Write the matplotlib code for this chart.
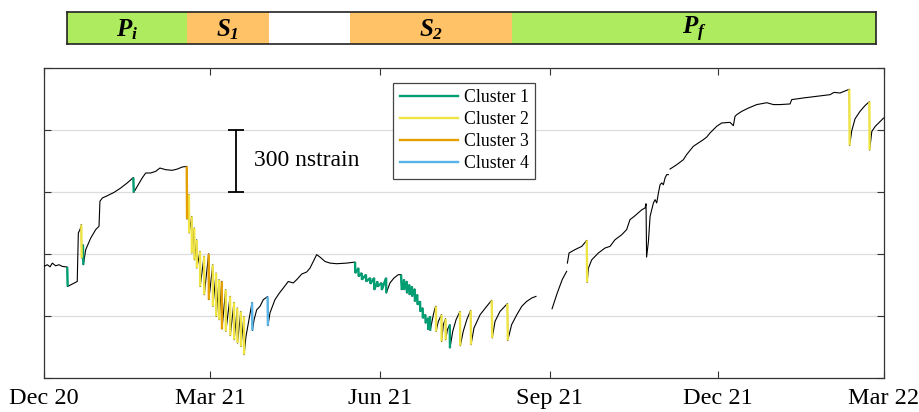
import numpy as np
import pandas as pd
import matplotlib
matplotlib.use('Agg')
import matplotlib.pyplot as plt
import matplotlib.dates as mdates
from matplotlib.collections import LineCollection
from matplotlib.lines import Line2D

plt.rcParams['font.family'] = ['Liberation Serif', 'DejaVu Serif']
plt.rcParams['mathtext.fontset'] = 'custom'
plt.rcParams['mathtext.it'] = 'Liberation Serif:italic:bold'
plt.rcParams['mathtext.rm'] = 'Liberation Serif:italic:bold'
plt.rcParams['mathtext.bf'] = 'Liberation Serif:italic:bold'

# ---------------- data ----------------
start_date = '2020-12-01'          # day 0
# days since start_date, strain (nstrain), cluster of the segment ending at this point (0 = none)
days = [0.0, 1.8, 3.3, 4.5, 6.3, 8.1, 9.9, 12.6, 12.8, 14.5, 18.0, 18.6, 19.5, 20.2, 20.4,
        21.1, 21.3, 22.6, 25.3, 28.0, 29.8, 30.3, 31.6, 34.3, 37.9, 41.5, 45.1, 48.4, 48.6,
        50.5, 53.2, 55.1, 57.8, 60.5, 62.8, 65.9, 69.5, 72.2, 74.9, 77.3, 77.5,
        78.5, 78.6, 80.0, 80.1, 81.4, 81.5, 82.7, 82.8, 84.5, 84.6, 86.7, 86.8, 89.2, 89.3,
        91.4, 91.5, 93.2, 93.3, 94.8, 94.9, 96.3, 96.4, 98.4, 98.5, 100.8, 100.9, 102.9, 103.0,
        104.7, 104.8, 106.6, 106.7, 108.3, 108.4,
        109.4, 110.7, 112.7, 112.9, 113.8, 115.2, 117.0, 118.8, 121.1, 121.3,
        122.4, 125.1, 127.5, 129.6, 132.3, 135.0, 136.9, 139.6, 142.3, 144.1, 145.9, 147.7,
        149.5, 152.2, 154.9, 158.6, 164.0, 168.5,
        168.6, 170.3, 170.4, 172.1, 172.2, 174.4, 174.5, 176.7, 176.8, 178.8, 178.9, 180.6,
        180.7, 182.9, 183.0, 185.3, 185.4,
        187.4, 189.6, 191.9, 193.4,
        193.8, 195.0, 195.1, 196.5, 196.6, 197.9, 198.0, 199.3, 199.4, 200.8, 200.9, 202.2,
        202.3, 203.7, 203.8, 205.1, 205.2, 206.6, 206.7, 208.0, 208.1, 209.1, 209.2,
        210.9, 211.8, 212.3, 212.4, 213.6, 215.3, 215.4, 216.3, 217.5, 217.6, 218.5, 219.8,
        219.9, 221.4, 223.2, 225.3, 225.5, 227.1, 229.0, 231.1, 231.3, 232.9, 236.2, 239.8,
        242.5, 242.8, 244.3, 247.0, 251.0, 251.2, 253.3, 256.1, 258.8, 261.5, 264.2, 266.5,
        270.0,
        275.2, 278.0, 280.7, 283.1,
        283.3,
        283.5, 284.4, 287.6, 291.3, 294.0, 294.2, 294.9, 296.7, 300.3, 303.9, 306.6, 309.3,
        312.9, 315.6, 317.4, 320.1, 323.8, 325.6, 326.1, 326.4, 327.4, 328.3, 330.1, 331.0,
        331.9, 332.8, 333.7, 334.6, 335.5, 336.4, 337.3, 338.2,
        338.6,
        339.1, 342.7, 346.3, 348.1, 351.7, 357.1, 359.0, 360.8, 364.4, 367.1, 371.6, 373.4,
        374.3, 375.2, 377.9, 381.5, 386.1, 391.5, 395.1, 398.7, 404.1, 405.0, 411.3, 418.6,
        425.8, 427.9, 431.2, 436.2, 436.4, 437.5, 439.3, 442.0, 444.7, 447.1, 447.2, 448.4,
        450.2, 452.1, 454.8]
strain = [540, 548, 538, 556, 543, 548, 540, 537, 443, 451, 467, 702, 718, 742, 581,
          645, 548, 621, 677, 718, 734, 855, 871, 882, 898, 919, 944, 970, 898,
          927, 968, 992, 992, 1000, 1016, 1008, 1005, 1011, 1021, 1024, 769,
          887, 702, 782, 605, 726, 572, 669, 532, 613, 443, 589, 403, 601, 379,
          548, 347, 508, 298, 476, 282, 468, 237, 427, 226, 395, 205, 366, 185,
          339, 169, 322, 153, 298, 113,
          201, 266, 366, 230, 282, 330, 347, 379, 394, 253,
          315, 379, 411, 435, 467, 460, 476, 503, 513, 532, 564, 597,
          585, 564, 556, 553, 556, 561,
          508, 532, 492, 508, 476, 500, 467, 484, 456, 484, 427, 467,
          443, 460, 427, 484, 411,
          460, 484, 500, 500,
          427, 476, 427, 468, 411, 451, 403, 443, 395, 431, 371, 403,
          355, 371, 322, 339, 290, 306, 266, 290, 234, 298, 230,
          306, 339, 347, 226, 274, 306, 177, 258, 287, 185, 234, 258,
          145, 226, 282, 322, 156, 226, 282, 327, 161, 242, 306, 347,
          376, 194, 274, 322, 360, 182, 258, 306, 347, 371, 387, 395,
          np.nan,
          335, 411, 476, 516,
          np.nan,
          556, 605, 621, 637, 666, 463, 532, 572, 605, 629, 637, 669,
          693, 718, 766, 785, 814, 823, 843, 585, 661, 782, 847, 863,
          847, 895, 935, 944, 935, 968, 984, 984,
          np.nan,
          1011, 1032, 1056, 1081, 1121, 1153, 1166, 1186, 1218, 1234, 1237, 1221,
          1266, 1274, 1290, 1306, 1323, 1332, 1323, 1323, 1326, 1347, 1355, 1363,
          1371, 1382, 1379, 1397, 1126, 1195, 1254, 1290, 1318, 1337, 1103, 1193,
          1217, 1234, 1258]
cluster = [0, 0, 0, 0, 0, 0, 0, 0, 1, 0, 0, 0, 0, 0, 2,
           0, 1, 0, 0, 0, 0, 0, 0, 0, 0, 0, 0, 0, 1,
           0, 0, 0, 0, 0, 0, 0, 0, 0, 0, 0, 3,
           0, 2, 0, 2, 0, 2, 0, 2, 0, 2, 0, 2, 0, 3,
           0, 2, 0, 2, 0, 2, 0, 3, 0, 2, 0, 2, 0, 2,
           0, 2, 0, 2, 0, 2,
           0, 0, 0, 4, 0, 0, 0, 0, 0, 4,
           0, 0, 0, 0, 0, 0, 0, 0, 0, 0, 0, 0,
           0, 0, 0, 0, 0, 0,
           1, 1, 1, 1, 1, 1, 1, 1, 1, 1, 1, 1,
           1, 1, 1, 1, 1,
           0, 0, 0, 0,
           1, 1, 1, 1, 1, 1, 1, 1, 1, 1, 1, 1,
           1, 1, 1, 1, 1, 1, 1, 1, 1, 1, 1,
           0, 0, 0, 2, 0, 0, 2, 0, 0, 2, 0, 0,
           1, 0, 0, 0, 2, 0, 0, 0, 2, 0, 0, 0,
           0, 2, 0, 0, 0, 2, 0, 0, 0, 0, 0, 0,
           0,
           0, 0, 0, 0,
           0,
           0, 0, 0, 0, 0, 2, 0, 0, 0, 0, 0, 0,
           0, 0, 0, 0, 0, 0, 0, 0, 0, 0, 0, 0,
           0, 0, 0, 0, 0, 0, 0, 0,
           0,
           0, 0, 0, 0, 0, 0, 0, 0, 0, 0, 0, 0,
           0, 0, 0, 0, 0, 0, 0, 0, 0, 0, 0, 0,
           0, 0, 0, 0, 2, 0, 0, 0, 0, 0, 2, 0,
           0, 0, 0]

cluster_names = ['Cluster 1', 'Cluster 2', 'Cluster 3', 'Cluster 4']
cluster_colors = ['#009E73', '#F0E442', '#E69F00', '#56B4E9']

phase_labels = [r'$P_i$', r'$S_1$', '', r'$S_2$', r'$P_f$']
phase_edges = ['2020-12-13', '2021-02-16', '2021-04-01', '2021-05-15', '2021-08-11', '2022-02-24']
phase_colors = ['#AEEB5E', '#FFC266', '#FFFFFF', '#FFC266', '#AEEB5E']

tick_dates = ['2020-12-01', '2021-03-01', '2021-06-01', '2021-09-01', '2021-12-01', '2022-03-01']
y_ticks = [0, 300, 600, 900, 1200, 1500]

scale_date = '2021-03-15'
scale_bottom = 900
scale_length = 300
scale_label = '300 nstrain'
scale_label_date = '2021-03-25'

# ---------------- plotting ----------------
fig = plt.figure(figsize=(9.19, 4.12), dpi=100)
ax = fig.add_axes([44 / 919, 1 - 378 / 412, 840 / 919, 310 / 412])

t0 = pd.Timestamp(start_date)
xnum = mdates.date2num(t0 + pd.to_timedelta(np.array(days), unit='D'))
y = np.array(strain, dtype=float)
cl = np.array(cluster)

ax.plot(xnum, y, color='black', lw=0.8, zorder=3)

for k in range(1, 5):
    segs = [[(xnum[i - 1], y[i - 1]), (xnum[i], y[i])] for i in range(1, len(y)) if cl[i] == k]
    if segs:
        ax.add_collection(LineCollection(segs, colors=cluster_colors[k - 1], linewidths=1.7, zorder=4))

ax.set_xlim(mdates.date2num(pd.Timestamp(tick_dates[0])), mdates.date2num(pd.Timestamp(tick_dates[-1])))
ax.set_ylim(y_ticks[0], y_ticks[-1])
ax.set_yticks(y_ticks)
ax.set_yticklabels([])
ax.set_xticks(mdates.date2num(pd.to_datetime(tick_dates)))
ax.xaxis.set_major_formatter(mdates.DateFormatter('%b %y'))
ax.tick_params(axis='both', direction='in', length=5, width=0.8, color='#333333',
               top=True, right=True, labelsize=17.5, pad=7)
ax.grid(axis='y', color='#dddddd', lw=0.9, zorder=0)
for s in ax.spines.values():
    s.set_color('#333333')
    s.set_linewidth(0.9)

# scale bar
sx = mdates.date2num(pd.Timestamp(scale_date))
ax.errorbar([sx], [scale_bottom + scale_length / 2], yerr=[scale_length / 2], fmt='none',
            ecolor='black', elinewidth=1.3, capsize=5.5, capthick=1.3, zorder=5)
ax.text(mdates.date2num(pd.Timestamp(scale_label_date)), scale_bottom + scale_length / 2,
        scale_label, fontsize=17, ha='left', va='center')

handles = [Line2D([0], [0], color=c, lw=1.7) for c in cluster_colors]
leg = ax.legend(handles, cluster_names, loc='upper left', bbox_to_anchor=(0.416, 0.951),
                borderaxespad=0, fontsize=12.8, handlelength=3.3, handletextpad=0.3,
                labelspacing=0.28, borderpad=0.35, fancybox=False, framealpha=1)
leg.get_frame().set_edgecolor('#444444')
leg.get_frame().set_linewidth(0.9)

# phase bar
bx = fig.add_axes([67.3 / 919, 1 - 44.3 / 412, (876 - 67.3) / 919, 32 / 412])
pe = mdates.date2num(pd.to_datetime(phase_edges))
for i, (lab, col) in enumerate(zip(phase_labels, phase_colors)):
    bx.axvspan(pe[i], pe[i + 1], color=col, lw=0)
    if lab:
        bx.text((pe[i] + pe[i + 1]) / 2, 0.45, lab, fontsize=18, ha='center', va='center')
bx.set_xlim(pe[0], pe[-1])
bx.set_ylim(0, 1)
bx.set_xticks([])
bx.set_yticks([])
for s in bx.spines.values():
    s.set_color('#222222')
    s.set_linewidth(1.2)

fig.savefig('out.png', dpi=100)
